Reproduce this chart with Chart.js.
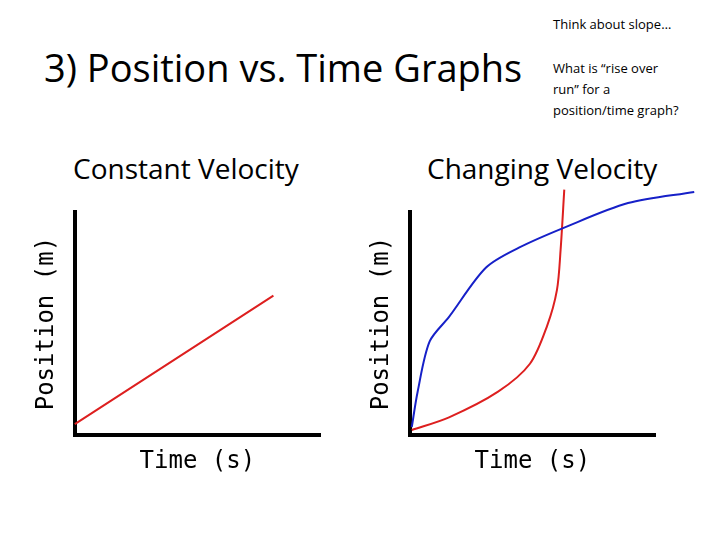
<!DOCTYPE html>
<html>
<head>
<meta charset="utf-8">
<script src="https://cdn.jsdelivr.net/npm/chart.js@4"></script>
<style>
  body { margin:0; width:720px; height:540px; background:#fff; position:relative; overflow:hidden; font-family:"Open Sans", sans-serif; }
  .t { position:absolute; white-space:nowrap; color:#000; }
  canvas { position:absolute; }
</style>
</head>
<body>
<div class="t" style="left:44px;top:41px;font-size:38px;">3) Position vs. Time Graphs</div>
<div class="t" style="left:553px;top:15px;font-size:13px;">Think about slope…</div>
<div class="t" style="left:553px;top:58px;font-size:13px;line-height:21px;">What is “rise over<br>run” for a<br>position/time graph?</div>
<div class="t" style="left:73px;top:149px;font-size:28px;">Constant Velocity</div>
<div class="t" style="left:427px;top:149px;font-size:28px;">Changing Velocity</div>
<div style="position:absolute;left:28px;top:200px;width:312px;height:280px;"><canvas id="c1"></canvas></div>
<div style="position:absolute;left:363px;top:180px;width:357px;height:300px;"><canvas id="c2"></canvas></div>
<script>
// constant velocity line
let constX = [0, 8.1];
let constY = [0.5, 6.25];
// changing velocity curves
let blueX = [0.08, 0.32, 0.81, 1.6, 3.1, 4.45, 6.3, 8.9, 11.6];
let blueY = [0.36, 1.95, 4.2, 5.3, 7.5, 8.4, 9.3, 10.4, 10.9];
let redX = [0.08, 1.6, 3.6, 4.9, 5.6, 6.0, 6.15, 6.3];
let redY = [0.23, 0.8, 1.95, 3.2, 4.9, 6.5, 8.3, 11];

function pts(xs, ys) {
    return xs.map((x, i) => ({x: x, y: ys[i]}));
}

function drawGraph(dom_id, datasets, pad) {
    let ctx = document.getElementById(dom_id).getContext('2d');
    let axisFont = {family: '"DejaVu Sans Mono"', size: 24};
    return new Chart(ctx, {
        type: 'scatter',
        data: {datasets: datasets},
        options: {
            responsive: true,
            maintainAspectRatio: false,
            animation: false,
            layout: {padding: pad},
            plugins: {legend: {display: false}, tooltip: {enabled: false}},
            scales: {
                x: {
                    min: 0, max: 10,
                    grid: {display: false},
                    ticks: {display: false},
                    border: {color: '#000', width: 4},
                    title: {display: true, text: 'Time (s)', font: axisFont, color: '#000', padding: {top: 4}}
                },
                y: {
                    min: 0, max: 10,
                    grid: {display: false},
                    ticks: {display: false},
                    border: {color: '#000', width: 4},
                    title: {display: true, text: 'Position (m)', font: axisFont, color: '#000', padding: {bottom: 6}}
                }
            }
        }
    });
}

function lineSet(xs, ys, color) {
    return {
        data: pts(xs, ys),
        showLine: true,
        borderColor: color,
        borderWidth: 2,
        pointRadius: 0,
        tension: 0.3,
        clip: false
    };
}

drawGraph('c1', [lineSet(constX, constY, '#dd1f1f')], {top: 12, right: 20, left: 0, bottom: 0});
drawGraph('c2', [lineSet(blueX, blueY, '#1620c8'), lineSet(redX, redY, '#dd1f1f')], {top: 32, right: 65, left: 0, bottom: 0});
</script>
</body>
</html>
